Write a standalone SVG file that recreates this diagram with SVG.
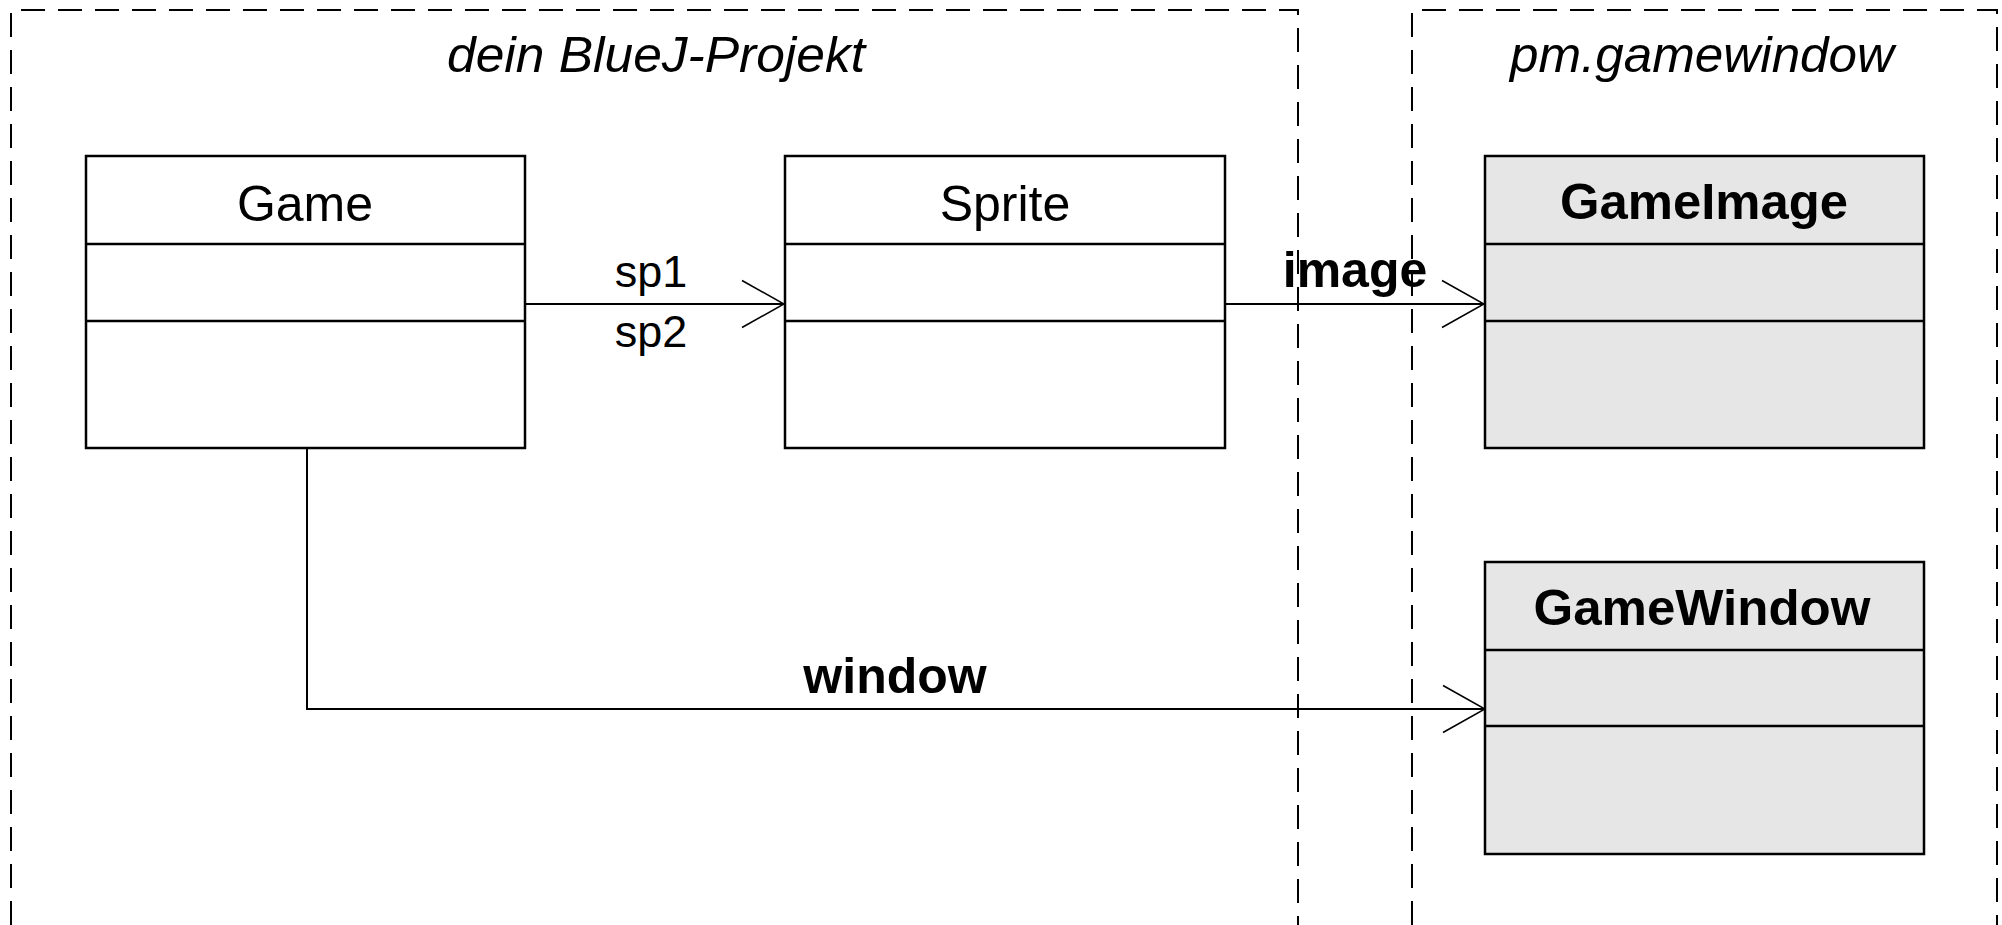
<svg xmlns="http://www.w3.org/2000/svg" width="2002" height="925" viewBox="0 0 2002 925">
  <style>
    .frame { fill: none; stroke: #000; stroke-width: 2; stroke-dasharray: 24 13; }
    .box { stroke: #000; stroke-width: 2.5; }
    .plain { fill: #fff; }
    .lib { fill: #e6e6e6; }
    .div { stroke: #000; stroke-width: 2.5; }
    .edge { fill: none; stroke: #000; stroke-width: 2; }
    .title { font-family: "Liberation Sans", Arial, sans-serif; font-size: 50px; font-style: italic; text-anchor: middle; fill: #000; }
    .name { font-family: "Liberation Sans", Arial, sans-serif; font-size: 50px; text-anchor: middle; fill: #000; }
    .bold { font-weight: bold; }
    .lbl { font-family: "Liberation Sans", Arial, sans-serif; font-size: 45px; text-anchor: middle; fill: #000; }
    .role { font-family: "Liberation Sans", Arial, sans-serif; font-size: 50px; font-weight: bold; text-anchor: middle; fill: #000; }
  </style>
  <defs>
    <marker id="open" viewBox="0 0 44 50" refX="43" refY="25" markerWidth="44" markerHeight="50" markerUnits="userSpaceOnUse" orient="auto">
      <path d="M1,1.5 L43,25 L1,48.5" fill="none" stroke="#000" stroke-width="1.6"/>
    </marker>
  </defs>
  <rect width="2002" height="925" fill="#fff"/>

  <!-- package frames -->
  <g id="pkg-project">
    <path class="frame" d="M11,925 V10 H1298 V925"/>
    <text class="title" x="656" y="72" textLength="418" lengthAdjust="spacingAndGlyphs">dein BlueJ-Projekt</text>
  </g>
  <g id="pkg-gamewindow">
    <path class="frame" d="M1412,925 V10 H1997 V925"/>
    <text class="title" x="1702" y="72" textLength="384" lengthAdjust="spacingAndGlyphs">pm.gamewindow</text>
  </g>

  <!-- connectors -->
  <g id="connectors">
    <path class="edge" d="M525,304 H784" marker-end="url(#open)"/>
    <path class="edge" d="M1225,304 H1484" marker-end="url(#open)"/>
    <path class="edge" d="M307,448 V709 H1485" marker-end="url(#open)"/>
    <text class="lbl" x="651" y="287">sp1</text>
    <text class="lbl" x="651" y="347">sp2</text>
    <text class="role" x="1355" y="287">image</text>
    <text class="role" x="895" y="693">window</text>
  </g>

  <!-- classes -->
  <g id="Game">
    <rect class="box plain" x="86" y="156" width="439" height="292"/>
    <line class="div" x1="86" y1="244" x2="525" y2="244"/>
    <line class="div" x1="86" y1="321" x2="525" y2="321"/>
    <text class="name" x="305" y="221">Game</text>
  </g>
  <g id="Sprite">
    <rect class="box plain" x="785" y="156" width="440" height="292"/>
    <line class="div" x1="785" y1="244" x2="1225" y2="244"/>
    <line class="div" x1="785" y1="321" x2="1225" y2="321"/>
    <text class="name" x="1005" y="221">Sprite</text>
  </g>
  <g id="GameImage">
    <rect class="box lib" x="1485" y="156" width="439" height="292"/>
    <line class="div" x1="1485" y1="244" x2="1924" y2="244"/>
    <line class="div" x1="1485" y1="321" x2="1924" y2="321"/>
    <text class="name bold" x="1704" y="219" textLength="288" lengthAdjust="spacingAndGlyphs">GameImage</text>
  </g>
  <g id="GameWindow">
    <rect class="box lib" x="1485" y="562" width="439" height="292"/>
    <line class="div" x1="1485" y1="650" x2="1924" y2="650"/>
    <line class="div" x1="1485" y1="726" x2="1924" y2="726"/>
    <text class="name bold" x="1702" y="625" textLength="337" lengthAdjust="spacingAndGlyphs">GameWindow</text>
  </g>
</svg>
